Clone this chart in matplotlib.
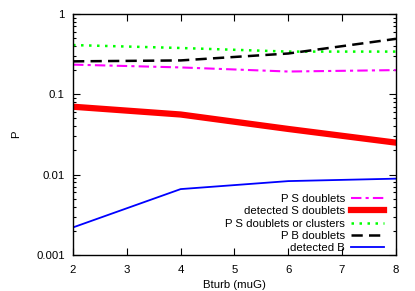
import matplotlib
matplotlib.use("Agg")
import matplotlib.pyplot as plt
from matplotlib.ticker import LogLocator, FixedLocator, NullFormatter

plt.rcParams["font.family"] = ["Liberation Sans", "DejaVu Sans"]
plt.rcParams["font.size"] = 8.2

bturb = [2, 4, 6, 8]
p_s_doublets = [0.234, 0.216, 0.192, 0.200]
detected_s_doublets = [0.070, 0.056, 0.037, 0.025]
p_s_doublets_or_clusters = [0.41, 0.377, 0.34, 0.34]
p_b_doublets = [0.257, 0.264, 0.322, 0.49]
detected_b = [0.0022, 0.0066, 0.0083, 0.0089]

fig = plt.figure(figsize=(4.15, 2.91), dpi=100)
ax = fig.add_axes([0.176, 0.124, 0.778, 0.828])

ax.plot(bturb, p_s_doublets, color="#ff00ff", lw=1.5,
        dashes=(5, 2, 1.5, 2), label="P S doublets")
ax.plot(bturb, detected_s_doublets, color="#ff0000", lw=4.5,
        label="detected S doublets")
ax.plot(bturb, p_s_doublets_or_clusters, color="#00ff00", lw=1.8,
        dashes=(1, 2.2), label="P S doublets or clusters")
ax.plot(bturb, p_b_doublets, color="black", lw=1.8,
        dashes=(4.5, 2.5), label="P B doublets")
ax.plot(bturb, detected_b, color="#0000ff", lw=1.3, label="detected B")

ax.set_yscale("log")
ax.set_xlim(2, 8)
ax.set_ylim(0.001, 1)
ax.xaxis.set_major_locator(FixedLocator(range(2, 9)))
ax.set_yticks([0.001, 0.01, 0.1, 1])
ax.set_yticklabels(["0.001", "0.01", "0.1", "1"])
ax.yaxis.set_minor_locator(LogLocator(subs=range(2, 10)))
ax.yaxis.set_minor_formatter(NullFormatter())
ax.tick_params(which="both", direction="in", top=True, right=True, width=0.8)
ax.tick_params(which="major", length=5)
ax.tick_params(which="minor", length=2.5)
ax.tick_params(axis="x", pad=7)
ax.tick_params(axis="y", pad=6)
for s in ax.spines.values():
    s.set_linewidth(1.0)

ax.set_xlabel("Bturb (muG)", labelpad=4)
ax.set_ylabel("P", labelpad=11)

ax.legend(loc="lower right", bbox_to_anchor=(0.925, 0.13),
          bbox_transform=fig.transFigure, markerfirst=False, frameon=False,
          borderpad=0, borderaxespad=0, handlelength=2.9,
          handletextpad=0.5, labelspacing=0.2)

fig.savefig("out.png", dpi=100)
